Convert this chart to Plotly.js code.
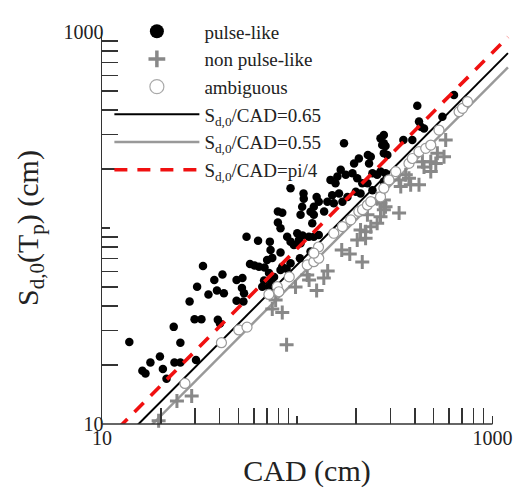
<!DOCTYPE html>
<html><head><meta charset="utf-8">
<script src="https://cdn.plot.ly/plotly-3.0.1.min.js"></script>
<style>html,body{margin:0;padding:0;background:#fff}#chart{width:518px;height:488px}</style>
</head><body><div id="chart"></div>
<script>
// pulse-like records: CAD (cm) and Sd,0(Tp) (cm)
const pulseCAD = [13.8,16.1,16.7,17.7,19.8,20.5,21.4,23.3,23.5,25.2,25.2,30.3,29.8,32.3,28.1,39.2,40.2,32.9,30.7,35.1,37.6,41.4,38.8,42.1,48.9,53.0,48.9,52.4,52.1,53.4,55.0,63.0,57.3,60.4,63.7,68.0,72.4,73.0,70.1,74.5,82.1,71.7,76.1,73.6,67.6,66.2,71.6,79.6,83.8,79.6,82.1,104,117,88.8,100,106.5,96.1,104,114.7,117,103.2,92.4,83.8,88.2,82.1,92.4,107.7,108,106,125.7,128.9,121.6,151,163.7,142.7,153.9,170.4,180.8,199.5,211,121.6,137.3,119.4,101.9,121.6,128.9,92.4,173.6,267,272.4,289.4,230,206.8,233.3,195.5,167,160.6,177.2,148,157,191.8,202.9,215.3,242.8,228.8,412,635,554,420.4,429,446,277.7,277.7,283.3,277.7,349.8,388.6,238,267,283.3,256.7,277.7,242.8];
const pulseSd = [26.2,18.7,18.1,20.6,22.1,19.1,17.0,31.3,20.6,20.6,26.0,21.2,34.2,34.2,42.2,34.0,32.6,64.0,50.2,45.8,54.3,57.9,48.0,46.4,42.6,42.2,54.3,55.6,49.4,46.4,90.3,86.2,65.5,64.4,63.5,62.9,85.2,77.3,68.7,70.4,74.9,59.0,56.3,53.7,54.0,50.2,50.0,121.5,119.7,106.6,99.8,116.9,121.1,90.3,94.0,91.5,81.9,83.6,90.3,75.8,70.0,66.1,63.5,62.0,61.1,159.6,150,141.2,128.4,144.1,136.3,128.4,147.1,150,136.3,133.7,136.3,144.1,152.9,150,116.9,121.5,105.8,86.9,90.3,92.1,85.2,270.3,286.6,265,235.8,235.8,226.3,213.6,213.6,198,182.9,186.7,176,169.3,190.5,179.6,169.3,190.5,169.3,420.6,477,369.6,349,329,322,298,270.3,262,240.5,281,281,231,194,190.5,186.7,172.5,156];

// non pulse-like records
const nonCAD = [19.5,24.2,28.8,74.5,83.8,88.2,98,112.5,125.7,77.5,115,136.8,143.2,169,185.8,215.3,211,223.9,238,202.9,223.9,267,277.7,256.7,267,228.8,283.3,332.4,256.7,277.7,332.4,339,381,420.4,359.7,373.5,437.6,446,483,512.5,483,522,564.7,576];
const nonSd = [10.4,13.1,13.9,38.6,37.1,25.4,50.0,57.6,48.0,42.9,54.3,55.6,60.4,77.3,73.7,67.1,97.7,95.8,101.6,86.9,88.6,133.7,124,105.8,114.2,116.9,128.4,119.3,141.2,139,176,162.6,166,166,186.7,179.6,217.6,205,217.6,213.6,194,240.5,231,281];

// ambiguous records
const ambCAD = [26.6,40.9,50.2,55.3,71.6,79.0,80.5,91.0,112.5,121.6,128.9,128.5,121.6,153.9,170.4,188,206.8,216,228.8,238,267,277.7,295,319.4,373.5,388.6,420.4,455,483,532,674.5,702,744.6];
const ambSd = [16.1,26.0,30.2,31.2,45.8,50.2,47.3,56.3,64.8,67.3,70.1,80.0,74.4,94.0,101.6,110,121.5,124,131,136.3,144.1,159.6,176,194,213.6,226.3,245,254.9,265,316,392,408,441];

// reference lines Sd,0 = ratio * CAD
const lineCAD = [10, 1200];
const ratios = [0.65, 0.55, Math.PI / 4];
const lineNames = ['S<sub>d,0</sub>/CAD=0.65', 'S<sub>d,0</sub>/CAD=0.55', 'S<sub>d,0</sub>/CAD=pi/4'];

// axis ticks
const majorTicks = [10, 100, 1000];
const majorText = ['10', '', '1000'];
const minorTicks = [20,30,40,50,60,70,80,90,200,300,400,500,600,700,800,900];

const serif = 'Liberation Serif, Times New Roman, serif';
const axisColor = '#333';

const lineY = r => lineCAD.map(c => c * r);

const pulseMarker = {symbol: 'circle', size: 8.5, color: '#000'};
const nonMarker = {symbol: 'cross-thin', size: 10, color: '#888', line: {color: '#888', width: 3}};
const ambMarker = {symbol: 'circle', size: 10, color: '#fff', line: {color: '#999', width: 1.2}};

const traces = [
  {x: pulseCAD, y: pulseSd, mode: 'markers', type: 'scatter', name: 'pulse-like', showlegend: false,
   cliponaxis: false, marker: pulseMarker},
  {x: lineCAD, y: lineY(ratios[0]), mode: 'lines', type: 'scatter', name: lineNames[0], legendrank: 4,
   line: {color: '#000', width: 2}},
  {x: lineCAD, y: lineY(ratios[1]), mode: 'lines', type: 'scatter', name: lineNames[1], legendrank: 5,
   line: {color: '#999', width: 2.4}},
  {x: lineCAD, y: lineY(ratios[2]), mode: 'lines', type: 'scatter', name: lineNames[2], legendrank: 6,
   line: {color: '#f01010', width: 3.6, dash: '13px,10px'}},
  {x: nonCAD, y: nonSd, mode: 'markers', type: 'scatter', name: 'non pulse-like', showlegend: false,
   cliponaxis: false, marker: nonMarker},
  {x: ambCAD, y: ambSd, mode: 'markers', type: 'scatter', name: 'ambiguous', showlegend: false,
   cliponaxis: false, marker: ambMarker},
  // legend-only entries with the larger legend symbols (no points drawn)
  {x: [null], y: [null], mode: 'markers', type: 'scatter', name: 'pulse-like', legendrank: 1,
   marker: {symbol: 'circle', size: 14, color: '#000'}},
  {x: [null], y: [null], mode: 'markers', type: 'scatter', name: 'non pulse-like', legendrank: 2,
   marker: {symbol: 'cross-thin', size: 12, color: '#888', line: {color: '#888', width: 3.5}}},
  {x: [null], y: [null], mode: 'markers', type: 'scatter', name: 'ambiguous', legendrank: 3,
   marker: {symbol: 'circle', size: 14, color: '#fff', line: {color: '#aaa', width: 1.2}}}
];

const axCommon = {
  type: 'log', showgrid: false, zeroline: false,
  ticks: 'inside', ticklen: 8, tickwidth: 1.5, tickcolor: axisColor,
  tickmode: 'array', tickvals: majorTicks, ticktext: majorText,
  tickfont: {family: serif, size: 20, color: '#222'},
  minor: {tickmode: 'array', tickvals: minorTicks, ticks: 'inside', ticklen: 16, tickwidth: 1.5, tickcolor: axisColor, showgrid: false}
};

const layout = {
  width: 518, height: 488,
  margin: {l: 102, r: 6, t: 32, b: 64},
  paper_bgcolor: '#fff', plot_bgcolor: 'rgba(0,0,0,0)',
  showlegend: true,
  legend: {x: 0.018, y: 1.05, xanchor: 'left', yanchor: 'top', bgcolor: 'rgba(0,0,0,0)',
           font: {family: serif, size: 19, color: '#222'}, itemwidth: 85, itemsizing: 'trace', tracegroupgap: 0},
  xaxis: Object.assign({}, axCommon, {range: [1, 3.1], showline: false,
    title: {text: 'CAD (cm)', font: {family: serif, size: 30, color: '#222'}, standoff: 14}}),
  yaxis: Object.assign({}, axCommon, {range: [1, 3], showline: true, linecolor: axisColor, linewidth: 1.5,
    ticklabelstandoff: -7,
    title: {text: 'S<sub>d,0</sub>(T<sub>p</sub>) (cm)', font: {family: serif, size: 30, color: '#222'}, standoff: 16}}),
  shapes: [{type: 'line', xref: 'paper', yref: 'paper', x0: 0, x1: 2 / 2.1, y0: 0, y1: 0,
            line: {color: axisColor, width: 1.5}}]
};

Plotly.newPlot('chart', traces, layout, {displayModeBar: false, staticPlot: true});
</script></body></html>
